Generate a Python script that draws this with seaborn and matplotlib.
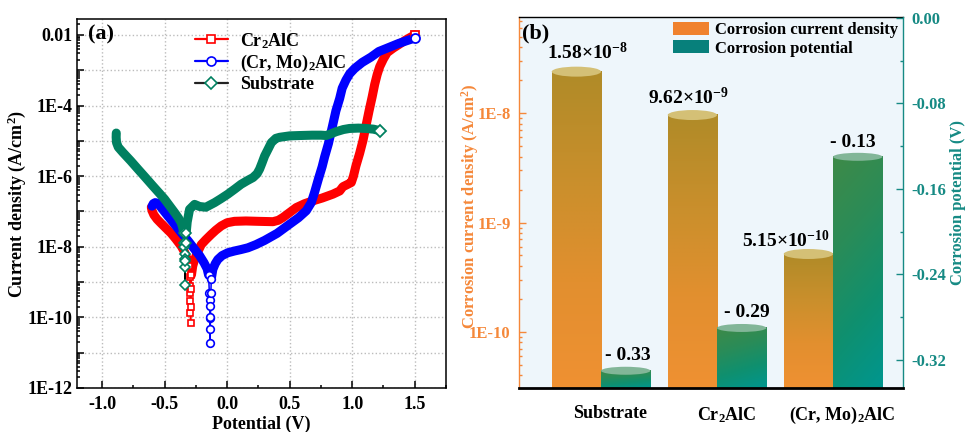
import numpy as np
import matplotlib
matplotlib.use("Agg")
import matplotlib.pyplot as plt
import seaborn as sns
from matplotlib.lines import Line2D
from matplotlib.patches import Patch, Ellipse
from matplotlib.colors import LinearSegmentedColormap
from matplotlib.ticker import (MultipleLocator, LogLocator, FuncFormatter,
                               FormatStrFormatter, FixedLocator, NullFormatter)

# ---------------- Panel (a): polarization curves (E in V, log10 of i in A/cm2) ----------------
cr_cath_E = [-0.606, -0.600, -0.585, -0.560, -0.527, -0.490, -0.447, -0.410, -0.367, -0.340, -0.318, -0.305]
cr_cath_L = [-6.88, -6.98, -7.10, -7.22, -7.34, -7.47, -7.62, -7.78, -7.98, -8.15, -8.36, -8.55]
cr_tip_E = [-0.305, -0.300, -0.297, -0.295, -0.294, -0.293, -0.292, -0.290, -0.288, -0.285]
cr_tip_L = [-8.55, -8.85, -9.10, -9.30, -9.54, -9.88, -10.15, -9.70, -9.20, -8.80]
cr_an_E = [-0.285, -0.275, -0.260, -0.235, -0.207, -0.170, -0.127, -0.090, -0.047, 0.000, 0.059,
           0.150, 0.250, 0.367, 0.410, 0.447, 0.500, 0.553, 0.620, 0.686, 0.760, 0.846, 0.900,
           0.926, 0.960, 0.993, 1.010, 1.030, 1.060, 1.087, 1.110, 1.135, 1.160, 1.180, 1.200,
           1.220, 1.250, 1.280, 1.330, 1.370, 1.430, 1.500]
cr_an_L = [-8.80, -8.55, -8.36, -8.15, -7.94, -7.80, -7.65, -7.53, -7.41, -7.32, -7.28,
           -7.27, -7.28, -7.29, -7.25, -7.17, -7.03, -6.89, -6.78, -6.70, -6.62, -6.51, -6.42,
           -6.30, -6.24, -6.18, -6.00, -5.71, -5.35, -4.98, -4.58, -4.15, -3.75, -3.40, -3.12,
           -2.90, -2.68, -2.50, -2.37, -2.28, -2.14, -2.00]

cm_cath_E = [-0.600, -0.590, -0.575, -0.553, -0.520, -0.473, -0.420, -0.367, -0.310, -0.260,
             -0.220, -0.185, -0.160, -0.148]
cm_cath_L = [-6.85, -6.78, -6.75, -6.77, -6.92, -7.13, -7.36, -7.60, -7.84, -8.07,
             -8.25, -8.45, -8.62, -8.80]
cm_tip_E = [-0.148, -0.142, -0.140, -0.138, -0.137, -0.136, -0.136, -0.133, -0.130, -0.126]
cm_tip_L = [-8.80, -9.30, -9.50, -9.68, -10.01, -10.34, -10.72, -10.00, -9.30, -8.90]
cm_an_E = [-0.126, -0.114, -0.095, -0.074, -0.040, 0.006, 0.059, 0.110, 0.166, 0.230, 0.300,
           0.400, 0.500, 0.570, 0.633, 0.673, 0.700, 0.730, 0.760, 0.780, 0.810, 0.840, 0.870,
           0.900, 0.920, 0.950, 0.980, 1.020, 1.080, 1.150, 1.213, 1.290, 1.373, 1.440, 1.500]
cm_an_L = [-8.90, -8.64, -8.48, -8.36, -8.25, -8.17, -8.12, -8.08, -8.03, -7.94, -7.82,
           -7.62, -7.36, -7.18, -6.98, -6.75, -6.45, -6.08, -5.73, -5.45, -5.08, -4.62, -4.15,
           -3.80, -3.51, -3.28, -3.10, -2.95, -2.78, -2.63, -2.47, -2.36, -2.24, -2.16, -2.09]

sub_cath_E = [-0.886, -0.887, -0.884, -0.870, -0.833, -0.770, -0.713, -0.650, -0.593, -0.540,
              -0.500, -0.460, -0.420, -0.390, -0.367, -0.355, -0.347]
sub_cath_L = [-4.78, -4.90, -5.05, -5.18, -5.33, -5.57, -5.80, -6.05, -6.28, -6.49,
              -6.65, -6.84, -7.03, -7.18, -7.32, -7.46, -7.60]
sub_tip_E = [-0.347, -0.342, -0.341, -0.340, -0.339, -0.338, -0.337, -0.334, -0.330, -0.327]
sub_tip_L = [-7.60, -7.90, -8.02, -8.20, -8.36, -8.57, -9.08, -8.40, -7.90, -7.60]
sub_an_E = [-0.327, -0.319, -0.300, -0.260, -0.220, -0.170, -0.100, -0.050, 0.006, 0.060,
            0.112, 0.160, 0.207, 0.240, 0.260, 0.280, 0.300, 0.330, 0.354, 0.390, 0.420,
            0.500, 0.580, 0.680, 0.750, 0.793, 0.830, 0.873, 0.930, 0.979, 1.050, 1.112,
            1.170, 1.219]
sub_an_L = [-7.60, -7.30, -6.94, -6.80, -6.86, -6.88, -6.75, -6.64, -6.51, -6.37,
            -6.23, -6.13, -6.04, -5.93, -5.80, -5.62, -5.43, -5.22, -5.05, -4.93, -4.90,
            -4.86, -4.85, -4.84, -4.84, -4.85, -4.80, -4.74, -4.68, -4.65, -4.64, -4.65,
            -4.67, -4.71]

legend_a = ["Cr$_2$AlC", "(Cr, Mo)$_2$AlC", "Substrate"]

# ---------------- Panel (b): corrosion parameters ----------------
categories = ["Substrate", "Cr$_2$AlC", "(Cr, Mo)$_2$AlC"]
icorr_bar_height = [2.40e-8, 9.62e-9, 5.15e-10]      # bar tops as drawn in the figure
icorr_labels = ["1.58×10$^{-8}$", "9.62×10$^{-9}$", "5.15×10$^{-10}$"]
ecorr_values = [-0.33, -0.29, -0.13]
ecorr_labels = ["- 0.33", "- 0.29", "- 0.13"]
ecorr_ticks = [0.00, -0.08, -0.16, -0.24, -0.32]
legend_b = ["Corrosion current density", "Corrosion potential"]

# ---------------- style ----------------
sns.set_theme(style="white")
plt.rcParams.update({
    "font.family": ["Liberation Serif", "DejaVu Serif"],
    "font.weight": "bold",
    "axes.labelweight": "bold",
    "mathtext.fontset": "custom",
    "mathtext.rm": "Liberation Serif:bold",
    "mathtext.it": "Liberation Serif:italic:bold",
    "mathtext.bf": "Liberation Serif:bold",
    "mathtext.default": "rm",
    "axes.unicode_minus": False,
    "text.color": "black",
    "axes.labelcolor": "black",
    "xtick.color": "black",
    "ytick.color": "black",
})

W, H = 969, 432
fig = plt.figure(figsize=(W / 100, H / 100), dpi=100)


def px_rect(l, t, r, b):
    return [l / W, (H - b) / H, (r - l) / W, (b - t) / H]


# ======================= panel (a) =======================
ax = fig.add_axes(px_rect(77, 19, 446, 388))
ax.set_yscale("log")

RED, BLUE, GREEN = "#ff0000", "#0000ff", "#008060"


def draw_curve(cE, cL, tE, tL, aE, aL, color, tipline, marker, ms, z):
    for E, L in ((cE, cL), (aE, aL)):
        sns.lineplot(x=E, y=10.0 ** np.asarray(L), sort=False, estimator=None, ax=ax,
                     color=color, lw=6.5, solid_capstyle="round", solid_joinstyle="round",
                     zorder=z)
    sns.lineplot(x=tE, y=10.0 ** np.asarray(tL), sort=False, estimator=None, ax=ax,
                 color=tipline, lw=1.1, marker=marker, markersize=ms,
                 markerfacecolor="white", markeredgecolor=color, markeredgewidth=1.2,
                 zorder=6)
    ax.plot([aE[-1]], [10.0 ** aL[-1]], ls="none", marker=marker, markersize=ms + 1,
            mfc="white", mec=color, mew=1.3, zorder=7)


draw_curve(cr_cath_E, cr_cath_L, cr_tip_E, cr_tip_L, cr_an_E, cr_an_L, RED, RED, "s", 5, 2)
draw_curve(cm_cath_E, cm_cath_L, cm_tip_E, cm_tip_L, cm_an_E, cm_an_L, BLUE, BLUE, "o", 5.5, 3)
draw_curve(sub_cath_E, sub_cath_L, sub_tip_E, sub_tip_L, sub_an_E, sub_an_L, GREEN, "black", "D", 5, 4)

ax.set_xlim(-1.2, 1.75)
ax.set_ylim(1e-12, 10 ** -1.55)
ax.xaxis.set_major_locator(MultipleLocator(0.5))
ax.xaxis.set_minor_locator(MultipleLocator(0.25))
ax.xaxis.set_major_formatter(FormatStrFormatter("%.1f"))
ax.yaxis.set_major_locator(LogLocator(base=10, numticks=30))
ax.yaxis.set_minor_locator(LogLocator(base=10, subs=np.arange(2, 10), numticks=30))


def fmt_a(v, p):
    e = int(round(np.log10(v)))
    if e % 2:
        return ""
    return "0.01" if e == -2 else f"1E{e}"


ax.yaxis.set_major_formatter(FuncFormatter(fmt_a))
ax.yaxis.set_minor_formatter(NullFormatter())
ax.tick_params(which="both", direction="in", bottom=True, left=True, top=False, right=False,
               labelsize=13, width=1.1)
ax.tick_params(which="major", length=5)
ax.tick_params(which="minor", length=2.5)
ax.tick_params(axis="x", pad=6)
ax.tick_params(axis="y", pad=3)
ax.grid(True, which="major", color="#bcbcbc", linestyle=":", lw=1.0)
ax.set_axisbelow(True)
for s in ax.spines.values():
    s.set_color("black")
    s.set_linewidth(1.1)
ax.set_xlabel("Potential (V)", fontsize=13, labelpad=2)
ax.set_ylabel("Current density (A/cm$^2$)", fontsize=13)
ax.yaxis.set_label_coords(-0.133, 0.5)
ax.text(0.03, 0.984, "(a)", transform=ax.transAxes, fontsize=16, va="top", ha="left")

handles_a = [
    Line2D([], [], color=RED, lw=1.6, marker="s", ms=6, mfc="white", mec=RED, mew=1.2),
    Line2D([], [], color=BLUE, lw=1.6, marker="o", ms=6.5, mfc="white", mec=BLUE, mew=1.2),
    Line2D([], [], color="#222222", lw=1.6, marker="D", ms=6, mfc="white", mec=GREEN, mew=1.2),
]
ax.legend(handles_a, legend_a, loc="upper left", bbox_to_anchor=(0.32, 0.968), frameon=False,
          fontsize=13, borderpad=0, borderaxespad=0, handlelength=1.8, handletextpad=0.7,
          labelspacing=0.12)

# ======================= panel (b) =======================
ORANGE_AX = "#f5883a"
TEAL_AX = "#168a84"
BW = 0.425
I_LO, I_HI = 10 ** -10.517, 10 ** -7.117
E_LO, E_HI = -0.3464, 0.001

ax2 = fig.add_axes(px_rect(519, 16.7, 903, 388.3))
ax2.set_facecolor("#eef6fb")
ax3 = ax2.twinx()

sns.barplot(x=categories, y=icorr_bar_height, ax=ax2, color="#e8902f", width=BW,
            saturation=1, errorbar=None)
sns.barplot(x=categories, y=ecorr_values, ax=ax3, color="#1a8f70", width=BW,
            saturation=1, errorbar=None)
ax2.set_yscale("log")
ax2.set_ylim(I_LO, I_HI)
ax3.set_ylim(E_LO, E_HI)
ax2.set_xlim(-0.707, 2.603)

cmap_o = LinearSegmentedColormap.from_list("o", ["#ef9132", "#e28f2f", "#c98f2c", "#b08b28"])
cmap_g = LinearSegmentedColormap.from_list("g", ["#00968f", "#0f906f", "#2a8c58", "#3e8a48"])


def restyle(axis, lo, shift, cmap, cap_color, cap_px, diag):
    tr = axis.transData + axis.transAxes.inverted()
    tops = []
    for p in list(axis.patches):
        top = p.get_y() + p.get_height()
        p.set_x(p.get_x() + shift)
        p.set_y(lo)
        p.set_height(top - lo)
        p.set_facecolor("none")
        p.set_linewidth(0)
        (x0, y0) = tr.transform((p.get_x(), lo))
        (x1, y1) = tr.transform((p.get_x() + p.get_width(), top))
        n = 80
        yy = np.linspace(0, 1, n)[:, None]
        xx = np.linspace(0, 1, n)[None, :]
        t = np.clip(yy * (1 - diag) + (1 - xx) * diag, 0, 1)
        axis.imshow(cmap(t), extent=(x0, x1, y0, y1), transform=axis.transAxes,
                    origin="lower", aspect="auto", interpolation="bilinear", zorder=1.5)
        axis.add_patch(Ellipse(((x0 + x1) / 2, y1), width=(x1 - x0), height=cap_px / 372.0,
                               transform=axis.transAxes, facecolor=cap_color,
                               edgecolor="none", zorder=1.6))
        tops.append(((x0 + x1) / 2, y1))
    return tops


tops_o = restyle(ax2, I_LO, -BW / 2, cmap_o, "#d4c076", 10, 0.0)
tops_g = restyle(ax3, E_LO, BW / 2, cmap_g, "#82b698", 8, 0.2)
ax2.set_ylim(I_LO, I_HI)
ax3.set_ylim(E_LO, E_HI)
ax2.set_xlim(-0.707, 2.603)

# value labels (offsets in px: dx, baseline height above bar top)
lab_off_o = [(11, 13), (-4, 11), (-23, 7)]
lab_off_g = [(2, 11), (5, 11), (-5, 10)]
for (xc, yt), lab, (dx, dy) in zip(tops_o, icorr_labels, lab_off_o):
    ax3.annotate(lab, xy=(xc, yt), xycoords="axes fraction", xytext=(dx * 0.72, dy * 0.72),
                 textcoords="offset points", ha="center", va="baseline", fontsize=14, zorder=8)
for (xc, yt), lab, (dx, dy) in zip(tops_g, ecorr_labels, lab_off_g):
    ax3.annotate(lab, xy=(xc, yt), xycoords="axes fraction", xytext=(dx * 0.72, dy * 0.72),
                 textcoords="offset points", ha="center", va="baseline", fontsize=14, zorder=8)

# x axis
ax2.set_xticks(np.arange(len(categories)) + 0.08)
ax2.set_xticklabels(categories)
ax2.tick_params(axis="x", length=0, pad=12, labelsize=13, bottom=True)
ax2.set_xlabel("")
ax3.set_xlabel("")

# left log axis
ax2.yaxis.set_major_locator(FixedLocator([1e-10, 1e-9, 1e-8]))
ax2.yaxis.set_major_formatter(FuncFormatter(lambda v, p: f"1E{int(round(np.log10(v)))}"))
ax2.yaxis.set_minor_locator(LogLocator(base=10, subs=np.arange(2, 10), numticks=30))
ax2.yaxis.set_minor_formatter(NullFormatter())
ax2.tick_params(axis="y", which="both", direction="in", left=True, right=False,
                colors=ORANGE_AX, labelsize=12, width=1.0, pad=6)
ax2.tick_params(axis="y", which="major", length=5)
ax2.tick_params(axis="y", which="minor", length=2.5)
ax2.set_ylabel("Corrosion current density (A/cm$^2$)", color=ORANGE_AX, fontsize=12)
ax2.yaxis.set_label_coords(-0.100, 0.49)

# right linear axis
ax3.yaxis.set_major_locator(FixedLocator(ecorr_ticks))
ax3.yaxis.set_major_formatter(FormatStrFormatter("%.2f"))
ax3.yaxis.set_minor_locator(MultipleLocator(0.04))
ax3.tick_params(axis="y", which="both", direction="in", right=True, left=False,
                colors=TEAL_AX, labelsize=12, width=1.0, pad=6)
ax3.tick_params(axis="y", which="major", length=5)
ax3.tick_params(axis="y", which="minor", length=2.5)
ax3.set_ylabel("Corrosion potential (V)", color=TEAL_AX, fontsize=12)
ax3.yaxis.set_label_coords(1.122, 0.5)

# spines
ax2.spines["left"].set_color(ORANGE_AX)
ax2.spines["left"].set_linewidth(1.0)
ax2.spines["top"].set_color("black")
ax2.spines["top"].set_linewidth(1.0)
ax2.spines["right"].set_visible(False)
ax2.spines["bottom"].set_visible(False)
ax3.spines["left"].set_visible(False)
ax3.spines["top"].set_visible(False)
ax3.spines["right"].set_color(TEAL_AX)
ax3.spines["right"].set_linewidth(1.0)
ax3.spines["bottom"].set_color("black")
ax3.spines["bottom"].set_linewidth(2.0)
ax3.spines["bottom"].set_zorder(5)

ax3.text(0.008, 0.983, "(b)", transform=ax3.transAxes, fontsize=16, va="top", ha="left",
         zorder=8)

handles_b = [Patch(facecolor="#f0822e", edgecolor="none"),
             Patch(facecolor="#07807b", edgecolor="none")]
ax3.legend(handles_b, legend_b, loc="upper left", bbox_to_anchor=(0.401, 0.986), frameon=False,
           fontsize=12, borderpad=0, borderaxespad=0, handlelength=2.15, handleheight=0.84,
           handletextpad=0.36, labelspacing=0.12)

fig.savefig("out.png", dpi=100)
